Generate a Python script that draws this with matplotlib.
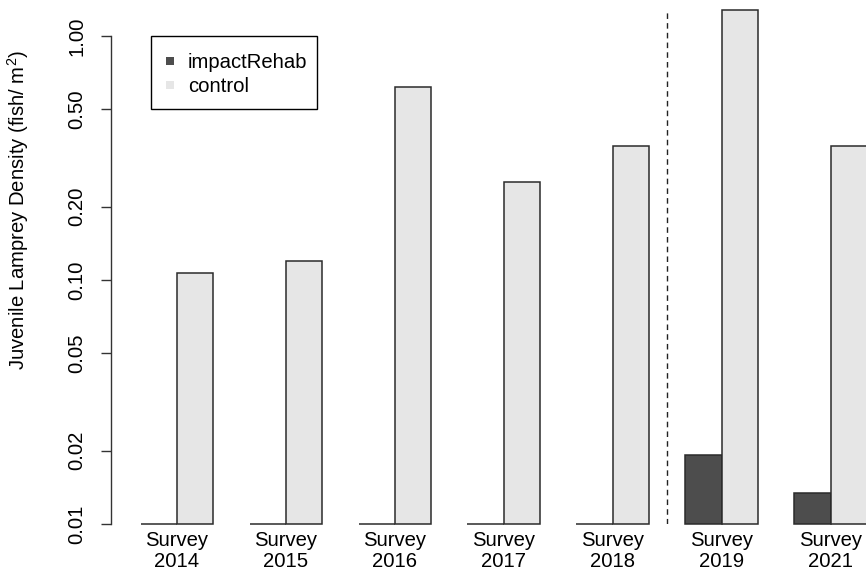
import numpy as np
import matplotlib
matplotlib.use('Agg')
import matplotlib.pyplot as plt
from matplotlib.patches import Rectangle

plt.rcParams['font.family'] = ['Liberation Sans', 'DejaVu Sans']
plt.rcParams['mathtext.fontset'] = 'custom'
plt.rcParams['mathtext.rm'] = 'Liberation Sans'
plt.rcParams['mathtext.it'] = 'Liberation Sans'

years = ['2014', '2015', '2016', '2017', '2018', '2019', '2021']
impact_rehab = [0, 0, 0, 0, 0, 0.0191, 0.0134]
control = [0.107, 0.120, 0.618, 0.252, 0.354, 1.279, 0.354]
series_names = ['impactRehab', 'control']
series_colors = ['#4d4d4d', '#e6e6e6']
floor = 0.01
edge = '#2b2b2b'
fs = 14.6
W, H = 866, 573

fig = plt.figure(figsize=(W / 100, H / 100), dpi=100)
ax = fig.add_axes([111 / W, 49 / H, 755 / W, 524 / H])
ax.set_yscale('log')

# R style barplot, beside=TRUE, space=c(0,1): groups of 3 units
starts = 1 + 3 * np.arange(len(years))
imp_h = [max(v, floor) - floor for v in impact_rehab]
ctl_h = [v - floor for v in control]
ax.bar(starts, imp_h, width=1, bottom=floor, align='edge', color=series_colors[0],
       edgecolor=edge, linewidth=1.1, clip_on=False)
ax.bar(starts + 1, ctl_h, width=1, bottom=floor, align='edge', color=series_colors[1],
       edgecolor=edge, linewidth=1.1, clip_on=False)

# dashed line between 2018 and 2019
xdiv = (starts[4] + 2 + starts[5]) / 2
ax.vlines(xdiv, floor, max(control), colors='#222222', linewidth=1,
          linestyles=(0, (4, 3)))

ax.set_xlim(1 - 29.7 / 36.31, 1 + 725.3 / 36.31)
ax.set_ylim(floor, 10 ** (524 / 244 - 2))

yt = [0.01, 0.02, 0.05, 0.1, 0.2, 0.5, 1.0]
ax.set_yticks(yt)
ax.set_yticklabels(['%.2f' % v for v in yt], rotation=90, va='center', fontsize=fs)
ax.yaxis.set_minor_locator(matplotlib.ticker.NullLocator())
ax.tick_params(axis='y', length=7.5, width=1, color='#333333', pad=10)

ax.set_xticks(starts + 1)
ax.set_xticklabels(['Survey\n' + y for y in years], fontsize=fs, linespacing=1.15)
ax.tick_params(axis='x', length=0, pad=5)

for s in ['top', 'right', 'bottom']:
    ax.spines[s].set_visible(False)
ax.spines['left'].set_bounds(0.01, 1.0)
ax.spines['left'].set_color('#333333')
ax.spines['left'].set_linewidth(1)

ax.set_ylabel('Juvenile Lamprey Density (fish/ m$^2$)', fontsize=fs)
ax.yaxis.set_label_coords(-80 / 755, (524 - 210) / 524)

# legend drawn like R's legend(): framed box, small filled squares
def fx(px):
    return px / W

def fy(py):
    return 1 - py / H

fig.patches.append(Rectangle((fx(151), fy(109)), fx(317) - fx(151), fy(36) - fy(109),
                             transform=fig.transFigure, facecolor='white',
                             edgecolor='black', linewidth=1))
for i, (name, col) in enumerate(zip(series_names, series_colors)):
    yc = 60.5 + 24 * i
    fig.patches.append(Rectangle((fx(165.5), fy(yc + 4)), 8 / W, 8 / H,
                                 transform=fig.transFigure, facecolor=col,
                                 edgecolor='none'))
    fig.text(fx(188), fy(yc + 7), name, fontsize=fs, va='baseline', ha='left')

fig.savefig('out.png', dpi=100)
